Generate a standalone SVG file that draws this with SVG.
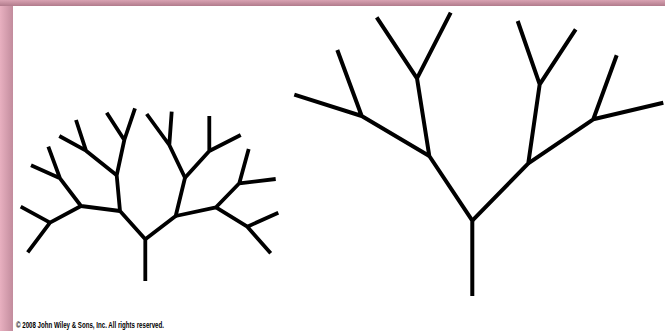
<svg xmlns="http://www.w3.org/2000/svg" width="665" height="331" viewBox="0 0 665 331">
  <defs>
    <linearGradient id="topBand" x1="0" y1="0" x2="0" y2="1">
      <stop offset="0" stop-color="#d9a3b3"/>
      <stop offset="1" stop-color="#b17b8c"/>
    </linearGradient>
    <linearGradient id="leftBand" x1="0" y1="0" x2="1" y2="0">
      <stop offset="0" stop-color="#e8b0c0"/>
      <stop offset="1" stop-color="#c28c9d"/>
    </linearGradient>
  </defs>
  <style>
    .br { stroke: #000; stroke-width: 4; stroke-linecap: butt; stroke-linejoin: round; fill: none; }
    .sm { stroke-width: 3.8; }
    .copy { font-family: "Liberation Sans", Arial, sans-serif; font-weight: bold; font-size: 9px; fill: #000; }
  </style>
  <rect x="0" y="0" width="665" height="331" fill="#ffffff"/>
  <rect x="0" y="0" width="13" height="331" fill="url(#leftBand)"/>
  <rect x="0" y="0" width="665" height="6" fill="url(#topBand)"/>

  <g id="small-tree">
    <path class="br sm" d="M145.3,281 V239.3 L120,211 L116.7,175.3 L124.3,140 L106.7,112.7 M124.3,140 L135,108.3"/>
    <path class="br sm" d="M116.7,175.3 L86,150.7 L59.3,136 M86,150.7 L76,120"/>
    <path class="br sm" d="M120,211 L81,206 L60,178.3 L31,165.3 M60,178.3 L48.3,146.7"/>
    <path class="br sm" d="M81,206 L50,222.7 L20.7,206.7 M50,222.7 L27.7,252.3"/>
    <path class="br sm" d="M145.3,239.3 L175.7,216 L185,177.7 L169.3,145 L146.7,114 M169.3,145 L171.7,111.7"/>
    <path class="br sm" d="M185,177.7 L209.3,151 L209.3,116 M209.3,151 L240.7,135"/>
    <path class="br sm" d="M175.7,216 L216,207.3 L239.3,183.3 L248.7,149 M239.3,183.3 L275.7,179"/>
    <path class="br sm" d="M216,207.3 L247.3,226.7 L278.3,212.7 M247.3,226.7 L270.7,253.3"/>
  </g>

  <g id="large-tree">
    <path class="br" d="M472.3,296 V220.7 L429.3,156 L417,78.3 L376.7,17.3 M417,78.3 L450.7,12.7"/>
    <path class="br" d="M429.3,156 L361.7,116 L294.3,94.7 M361.7,116 L337.3,50"/>
    <path class="br" d="M472.3,220.7 L528.3,163.3 L539.7,84.3 L517.7,21 M539.7,84.3 L575.7,29.3"/>
    <path class="br" d="M528.3,163.3 L593.3,119.3 L616.7,55.3 M593.3,119.3 L663.3,102.7"/>
  </g>

  <text class="copy" x="16" y="328" textLength="148" lengthAdjust="spacingAndGlyphs">© 2008 John Wiley &amp; Sons, Inc. All rights reserved.</text>
</svg>
